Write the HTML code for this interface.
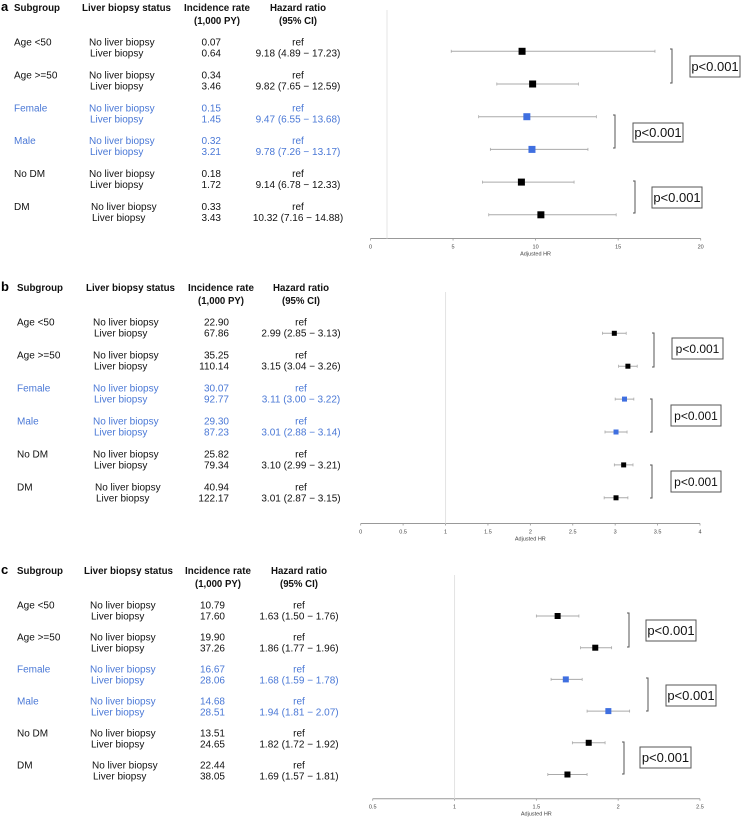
<!DOCTYPE html>
<html><head><meta charset="utf-8"><style>
html,body{margin:0;padding:0;background:#fff;}
svg{display:block;font-family:"Liberation Sans",Arial,sans-serif;}
</style></head><body>
<svg id="fig" width="741" height="819" viewBox="0 0 741 819" xmlns="http://www.w3.org/2000/svg"></svg>
<script>
const subgroups = ["Age <50","Age >=50","Female","Male","No DM","DM"];
const rowBlue = [false,false,true,true,false,false];
const aInc0 = ["0.07","0.34","0.15","0.32","0.18","0.33"];
const aInc1 = ["0.64","3.46","1.45","3.21","1.72","3.43"];
const aHR = [9.18,9.82,9.47,9.78,9.14,10.32];
const aLo = [4.89,7.65,6.55,7.26,6.78,7.16];
const aHi = [17.23,12.59,13.68,13.17,12.33,14.88];
const aTicks = [0,5,10,15,20];
const bInc0 = ["22.90","35.25","30.07","29.30","25.82","40.94"];
const bInc1 = ["67.86","110.14","92.77","87.23","79.34","122.17"];
const bHR = [2.99,3.15,3.11,3.01,3.10,3.01];
const bLo = [2.85,3.04,3.00,2.88,2.99,2.87];
const bHi = [3.13,3.26,3.22,3.14,3.21,3.15];
const bTicks = [0,0.5,1,1.5,2,2.5,3,3.5,4];
const cInc0 = ["10.79","19.90","16.67","14.68","13.51","22.44"];
const cInc1 = ["17.60","37.26","28.06","28.51","24.65","38.05"];
const cHR = [1.63,1.86,1.68,1.94,1.82,1.69];
const cLo = [1.50,1.77,1.59,1.81,1.72,1.57];
const cHi = [1.76,1.96,1.78,2.07,1.92,1.81];
const cTicks = [0.5,1,1.5,2,2.5];

const NS="http://www.w3.org/2000/svg";
const svg=document.getElementById('fig');
const BLUE="#4a78d6", MBLUE="#3f6fe0";
function el(tag,attrs,parent){const e=document.createElementNS(NS,tag);for(const k in attrs)e.setAttribute(k,attrs[k]);(parent||svg).appendChild(e);return e;}
function txt(s,x,y,attrs,parent){const t=el('text',Object.assign({x:x,y:y},attrs),parent);t.textContent=s;return t;}
const fmt=v=>v.toFixed(2);

function hdr(s,x0,x1,y,g){
  return txt(s,x0,y,{'font-weight':'bold','font-size':'10.5','fill':'#111',textLength:x1-x0,lengthAdjust:'spacingAndGlyphs'},g);
}

function panel(P){
  const g=el('g',{});
  
  
  const xs=v=>P.x0+(v-P.d0)/(P.d1-P.d0)*(P.x1-P.x0);
  let t=txt(P.letter,1,P.hy,{'font-weight':'bold','font-size':'13'},g);
  
  const H=P.h;
  t=hdr("Subgroup",H[0],H[0]+46,P.hy,g);
  t=hdr("Liver biopsy status",H[1],H[1]+89,P.hy,g);
  t=hdr("Incidence rate",H[2]-33,H[2]+33,P.hy,g);
  hdr("(1,000 PY)",H[2]-23,H[2]+23,P.hy+13,g);
  t=hdr("Hazard ratio",H[3]-28,H[3]+28,P.hy,g);
  hdr("(95% CI)",H[3]-19,H[3]+19,P.hy+13,g);
  const ax=el('g',{},g);
  el('line',{x1:xs(P.d0),x2:xs(P.d1),y1:P.ay,y2:P.ay,stroke:'#999','stroke-width':1},ax);
  P.ticks.forEach(v=>{
    el('line',{x1:xs(v),x2:xs(v),y1:P.ay,y2:P.ay+2,stroke:'#999','stroke-width':0.8},ax);
    const tl=txt(String(v),xs(v),P.ay+10,{'text-anchor':'middle','font-size':'5.5','fill':'#444'},ax);
    
  });
  t=txt("Adjusted HR",(xs(P.d0)+xs(P.d1))/2,P.ay+17,{'text-anchor':'middle','font-size':'5.5','fill':'#444'},g);
  
  const rl=el('line',{x1:xs(1),x2:xs(1),y1:P.refTop,y2:P.ay,stroke:'#e4e4e4','stroke-width':1},g);
  
  for(let i=0;i<6;i++){
    const y0=P.ry0+i*P.rs, y1=y0+11;
    const col=rowBlue[i]?BLUE:'#111';
    const fs={'font-size':'10','fill':col};
    t=txt(subgroups[i],P.cx[0],y0+3.5,fs,g);
    const off=(i==5)?2:0;
    txt("No liver biopsy",P.cx[1]+off,y0+3.5,fs,g);
    txt("Liver biopsy",P.cx[1]+1+off,y1+3.5,fs,g);
    txt(P.inc0[i],P.cx[2]+6,y0+3.5,Object.assign({'text-anchor':'end'},fs),g);
    txt(P.inc1[i],P.cx[2]+6,y1+3.5,Object.assign({'text-anchor':'end'},fs),g);
    txt("ref",P.cx[3],y0+3.5,Object.assign({'text-anchor':'middle'},fs),g);
    txt(fmt(P.hr[i])+" ("+fmt(P.lo[i])+" \u2212 "+fmt(P.hi[i])+")",P.cx[3],y1+3.5,Object.assign({'text-anchor':'middle'},fs),g);
    const py=P.py0+i*P.ps;
    const m=el('g',{},g);
    el('line',{x1:xs(P.lo[i]),x2:xs(P.hi[i]),y1:py,y2:py,stroke:'#aaa','stroke-width':1},m);
    el('line',{x1:xs(P.lo[i]),x2:xs(P.lo[i]),y1:py-1.5,y2:py+1.5,stroke:'#aaa','stroke-width':0.8},m);
    el('line',{x1:xs(P.hi[i]),x2:xs(P.hi[i]),y1:py-1.5,y2:py+1.5,stroke:'#aaa','stroke-width':0.8},m);
    const s=P.ms;
    el('rect',{x:xs(P.hr[i])-s/2,y:py-s/2,width:s,height:s,fill:rowBlue[i]?MBLUE:'#000'},m);
  }
  P.brackets.forEach(b=>{
    const bg=el('g',{},g);
    el('path',{d:`M${b[0]-2},${b[1]} H${b[0]} V${b[2]} H${b[0]-2}`,fill:'none',stroke:'#555','stroke-width':1},bg);
    el('rect',{x:b[3],y:b[4],width:b[5],height:b[6],fill:'#fff',stroke:'#555','stroke-width':1},bg);
    const pt=txt("p<0.001",b[3]+b[5]/2,b[4]+b[6]/2+4.5,{'text-anchor':'middle','font-size':b[7],'fill':'#111'},bg);
    
  });
}
panel({letter:'a',hy:11,h:[14,82,217,298],cx:[14,89,215,298],ry0:42,rs:32.9,inc0:aInc0,inc1:aInc1,hr:aHR,lo:aLo,hi:aHi,
  ticks:aTicks,d0:0,d1:20,x0:370.5,x1:700.7,ay:238.5,refTop:10,py0:51.3,ps:32.7,ms:7,
  brackets:[[672,49,83,690,56,50,21,13],[615,115,148,633,123,50,19,13],[635,181,213,652,187,50,21,13]]});
panel({letter:'b',hy:291,h:[17,86,221,301],cx:[17,93,223,301],ry0:322,rs:33,inc0:bInc0,inc1:bInc1,hr:bHR,lo:bLo,hi:bHi,
  ticks:bTicks,d0:0,d1:4,x0:360.7,x1:700,ay:523.5,refTop:292,py0:333.3,ps:32.9,ms:5,
  brackets:[[654,333,367,672,338,51,21,12],[652,399,432,671,405,50,21,12],[652,465,498,671,471,50,21,12]]});
panel({letter:'c',hy:574,h:[17,84,218,299],cx:[17,90,219,299],ry0:605,rs:32,inc0:cInc0,inc1:cInc1,hr:cHR,lo:cLo,hi:cHi,
  ticks:cTicks,d0:0.5,d1:2.5,x0:372.7,x1:700,ay:798.7,refTop:575,py0:616,ps:31.7,ms:6,
  brackets:[[629,613,647,646,620,50,21,13],[648,678,711,666,685,50,21,13],[624,742,774,640,747,51,21,13]]});
</script>
</body></html>
